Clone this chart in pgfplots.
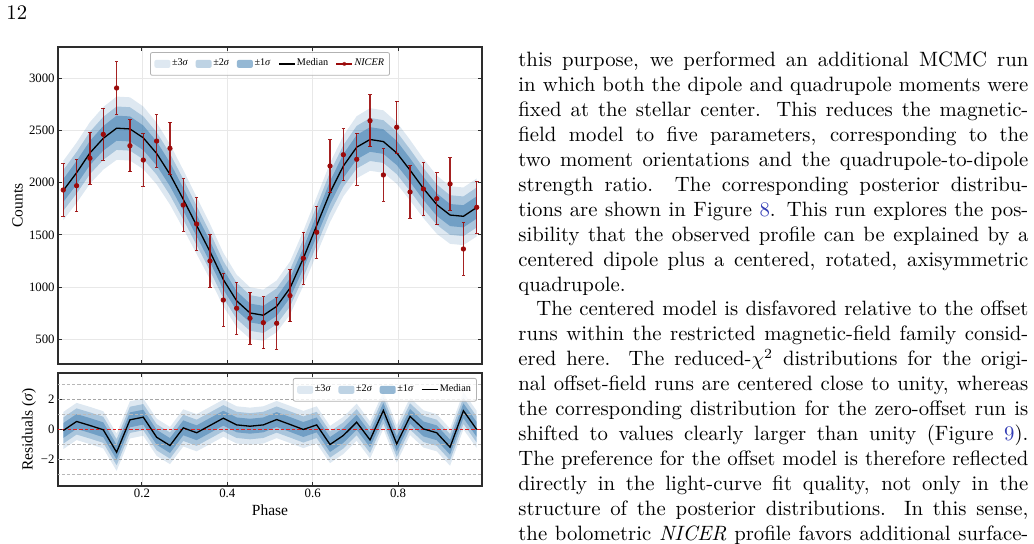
\documentclass[border=0pt]{standalone}
\usepackage{fontspec}
\usepackage{pgfplots}
\pgfplotsset{compat=1.18}
\usepackage{pgfplotstable}
\usepgfplotslibrary{fillbetween}
\newfontfamily\timesfont{Liberation Serif}
\definecolor{bandc}{RGB}{70,130,180}
\definecolor{errc}{RGB}{155,10,10}
\definecolor{refblue}{RGB}{50,60,180}
\definecolor{axc}{RGB}{45,45,45}
\definecolor{zeroc}{RGB}{225,35,35}

\pgfplotstableread{
x m h1 h2 h3 d e r
0.015625 1925 110 195 284 1930 250 -0.07
0.046875 2095 113 199 289 1971 250 0.54
0.078125 2285 116 203 295 2234 250 0.27
0.109375 2425 118 206 300 2463 250 -0.02
0.140625 2522 120 208 303 2907 250 -1.53
0.171875 2515 120 208 303 2354 250 0.65
0.203125 2430 118 206 300 2217 250 0.83
0.234375 2280 116 203 295 2399 250 -0.52
0.265625 2080 113 199 289 2329 250 -1.08
0.296875 1840 109 194 281 1786 250 0.11
0.328125 1590 104 188 273 1604 250 -0.22
0.359375 1340 100 183 265 1250 250 0.27
0.390625 1072 96 177 256 876 250 0.76
0.421875 868 92 173 250 797 250 0.31
0.453125 752 90 171 246 701 250 0.22
0.484375 730 90 170 245 659 250 0.31
0.515625 815 91 172 248 653 250 0.67
0.546875 990 94 176 254 918 250 0.34
0.578125 1276 99 182 263 1276 250 0.00
0.609375 1590 104 188 273 1525 250 0.31
0.640625 1905 110 195 283 2160 250 -1.01
0.671875 2160 114 200 291 2268 250 -0.40
0.703125 2340 117 204 297 2224 250 0.49
0.734375 2414 118 206 300 2594 250 -0.70
0.765625 2394 118 205 299 2074 250 1.28
0.796875 2285 116 203 295 2531 250 -0.97
0.828125 2120 113 200 290 1911 250 0.88
0.859375 1945 110 196 284 1940 250 0.04
0.890625 1790 108 193 279 1847 250 -0.22
0.921875 1690 106 190 276 1988 250 -1.19
0.953125 1678 106 190 276 1365 250 1.26
0.984375 1763 107 192 278 1764 250 0.00
}\data

\pgfplotsset{
  myax/.style={
    scale only axis, width=212pt, xmin=0.0033, xmax=0.9967,
    axis line style={axc, line width=0.6pt},
    tick align=inside, tick pos=both, major tick length=2pt,
    every tick/.style={axc, line width=0.5pt},
    xtick={0.2,0.4,0.6,0.8},
    ticklabel style={font=\fontsize{6.4}{7}\timesfont, inner sep=1.5pt},
    /pgf/number format/assume math mode=true,
    /pgf/number format/1000 sep={},
    legend style={font=\fontsize{5.1}{6}\timesfont, draw=gray!60, rounded corners=1pt,
      fill=white, fill opacity=0.8, text opacity=1, inner xsep=2pt, inner ysep=2.4pt,
      nodes={inner sep=0.8pt},
      /tikz/every even column/.append style={column sep=3pt}},
    legend cell align=left,
  },
  patch/.style={legend image code/.code={\fill[draw=none, fill=bandc, fill opacity=#1] (0pt,-2pt) rectangle (8pt,2pt);}},
}

\begin{document}
\begin{tikzpicture}

% ---------------- top panel ----------------
\begin{axis}[myax, at={(29pt,-23.5pt)}, anchor=north west, height=158.5pt,
  ymin=263, ymax=3300, ytick={500,1000,1500,2000,2500,3000},
  xticklabel=\empty,
  grid=major, major grid style={black!9, line width=0.4pt},
  ylabel={Counts},
  every axis y label/.style={at={(axis description cs:-0.0955,0.5)}, rotate=90, anchor=center, font=\fontsize{7.75}{9}\timesfont},
  legend style={at={(0.5,0.984)}, anchor=north}, legend columns=5]
\addplot[draw=none, name path=u3, forget plot] table[x=x, y expr=\thisrow{m}+\thisrow{h3}] {\data};
\addplot[draw=none, name path=l3, forget plot] table[x=x, y expr=\thisrow{m}-\thisrow{h3}] {\data};
\addplot[draw=none, name path=u2, forget plot] table[x=x, y expr=\thisrow{m}+\thisrow{h2}] {\data};
\addplot[draw=none, name path=l2, forget plot] table[x=x, y expr=\thisrow{m}-\thisrow{h2}] {\data};
\addplot[draw=none, name path=u1, forget plot] table[x=x, y expr=\thisrow{m}+\thisrow{h1}] {\data};
\addplot[draw=none, name path=l1, forget plot] table[x=x, y expr=\thisrow{m}-\thisrow{h1}] {\data};
\addplot[fill=bandc, fill opacity=0.18, draw=none, forget plot] fill between[of=u3 and l3];
\addplot[fill=bandc, fill opacity=0.35, draw=none, forget plot] fill between[of=u2 and l2];
\addplot[fill=bandc, fill opacity=0.57, draw=none, forget plot] fill between[of=u1 and l1];
\addplot[black, line width=0.65pt, forget plot] table[x=x, y=m] {\data};
\addplot[errc, only marks, mark=*, mark size=1.1pt, mark options={fill=errc, draw=errc}, forget plot,
  error bars/.cd, y dir=both, y explicit,
  error bar style={line width=0.6pt, errc, opacity=0.9},
  error mark options={rotate=90, mark size=0.9pt, line width=0.5pt, errc}]
  table[x=x, y=d, y error=e] {\data};
\addlegendimage{patch=0.18}\addlegendentry{±3\textit{σ}}
\addlegendimage{patch=0.35}\addlegendentry{±2\textit{σ}}
\addlegendimage{patch=0.57}\addlegendentry{±1\textit{σ}}
\addlegendimage{legend image code/.code={\draw[black, line width=0.6pt] (0pt,0pt) -- (8pt,0pt);}}\addlegendentry{Median}
\addlegendimage{legend image code/.code={\draw[errc, line width=0.6pt] (0pt,0pt) -- (8pt,0pt); \fill[errc, draw=none] (4pt,0pt) circle (1pt);}}\addlegendentry{\textit{NICER}}
\end{axis}

% ---------------- residual panel ----------------
\begin{axis}[myax, at={(29pt,-186.5pt)}, anchor=north west, height=56.5pt,
  ymin=-3.8, ymax=3.8, ytick={-2,0,2}, yticklabels={−2,0,2},
  xmajorgrids, major x grid style={black!9, line width=0.4pt},
  xlabel={Phase}, ylabel={Residuals (\textit{σ})},
  every axis x label/.style={at={(axis description cs:0.5,-0.212)}, anchor=center, font=\fontsize{7.75}{9}\timesfont},
  every axis y label/.style={at={(axis description cs:-0.0684,0.5)}, rotate=90, anchor=center, font=\fontsize{7.75}{9}\timesfont},
  legend style={at={(0.988,0.956)}, anchor=north east}, legend columns=4]
\addplot[black!28, dash pattern=on 1.6pt off 1pt, line width=0.4pt, forget plot] coordinates {(0,3) (1,3)};
\addplot[black!35, dash pattern=on 1.6pt off 1pt, line width=0.4pt, forget plot] coordinates {(0,2) (1,2)};
\addplot[black!28, dash pattern=on 1.6pt off 1pt, line width=0.4pt, forget plot] coordinates {(0,1) (1,1)};
\addplot[black!28, dash pattern=on 1.6pt off 1pt, line width=0.4pt, forget plot] coordinates {(0,-1) (1,-1)};
\addplot[black!35, dash pattern=on 1.6pt off 1pt, line width=0.4pt, forget plot] coordinates {(0,-2) (1,-2)};
\addplot[black!28, dash pattern=on 1.6pt off 1pt, line width=0.4pt, forget plot] coordinates {(0,-3) (1,-3)};
\addplot[draw=none, name path=ru3, forget plot] table[x=x, y expr=\thisrow{r}+1.25] {\data};
\addplot[draw=none, name path=rl3, forget plot] table[x=x, y expr=\thisrow{r}-1.25] {\data};
\addplot[draw=none, name path=ru2, forget plot] table[x=x, y expr=\thisrow{r}+0.88] {\data};
\addplot[draw=none, name path=rl2, forget plot] table[x=x, y expr=\thisrow{r}-0.88] {\data};
\addplot[draw=none, name path=ru1, forget plot] table[x=x, y expr=\thisrow{r}+0.5] {\data};
\addplot[draw=none, name path=rl1, forget plot] table[x=x, y expr=\thisrow{r}-0.5] {\data};
\addplot[fill=bandc, fill opacity=0.18, draw=none, forget plot] fill between[of=ru3 and rl3];
\addplot[fill=bandc, fill opacity=0.35, draw=none, forget plot] fill between[of=ru2 and rl2];
\addplot[fill=bandc, fill opacity=0.57, draw=none, forget plot] fill between[of=ru1 and rl1];
\addplot[zeroc, dash pattern=on 1.8pt off 1pt, line width=0.6pt, forget plot] coordinates {(0,0) (1,0)};
\addplot[black, line width=0.65pt, forget plot] table[x=x, y=r] {\data};
\addlegendimage{patch=0.18}\addlegendentry{±3\textit{σ}}
\addlegendimage{patch=0.35}\addlegendentry{±2\textit{σ}}
\addlegendimage{patch=0.57}\addlegendentry{±1\textit{σ}}
\addlegendimage{legend image code/.code={\draw[black, line width=0.6pt] (0pt,0pt) -- (8pt,0pt);}}\addlegendentry{Median}
\end{axis}

% ---------------- page text ----------------
\node[anchor=base west, inner sep=0pt] at (3pt,-9.75pt) {\fontsize{10.375}{12.45}\selectfont 12};
\node[anchor=base west, inner sep=0pt] at (259pt,-33.5pt) {\parbox[t]{255pt}{\fontsize{10.375}{12.45}\selectfont
\hbox to\hsize{this purpose, we performed an additional MCMC run}
\hbox to\hsize{in which both the dipole and quadrupole moments were}
\hbox to\hsize{fixed at the stellar center.  This reduces the magnetic-}
\hbox to\hsize{field model to five parameters, corresponding to the}
\hbox to\hsize{two moment orientations and the quadrupole-to-dipole}
\hbox to\hsize{strength ratio.  The corresponding posterior distribu-}
\hbox to\hsize{tions are shown in Figure \textcolor{refblue}{8}. This run explores the pos-}
\hbox to\hsize{sibility that the observed profile can be explained by a}
\hbox to\hsize{centered dipole plus a centered, rotated, axisymmetric}
\hbox{quadrupole.}
\hbox to\hsize{\hskip 9pt The centered model is disfavored relative to the offset}
\hbox to\hsize{runs within the restricted magnetic-field family consid-}
\hbox to\hsize{ered here.  The reduced-$\chi^2$ distributions for the origi-}
\hbox to\hsize{nal offset-field runs are centered close to unity, whereas}
\hbox to\hsize{the corresponding distribution for the zero-offset run is}
\hbox to\hsize{shifted to values clearly larger than unity (Figure \textcolor{refblue}{9}).}
\hbox to\hsize{The preference for the offset model is therefore reflected}
\hbox to\hsize{directly in the light-curve fit quality, not only in the}
\hbox to\hsize{structure of the posterior distributions.  In this sense,}
\hbox to\hsize{the bolometric \textit{NICER} profile favors additional surface-}
}};
\pgfresetboundingbox
\path[use as bounding box] (0pt,0pt) rectangle (517pt,-272pt);
\end{tikzpicture}
\end{document}
